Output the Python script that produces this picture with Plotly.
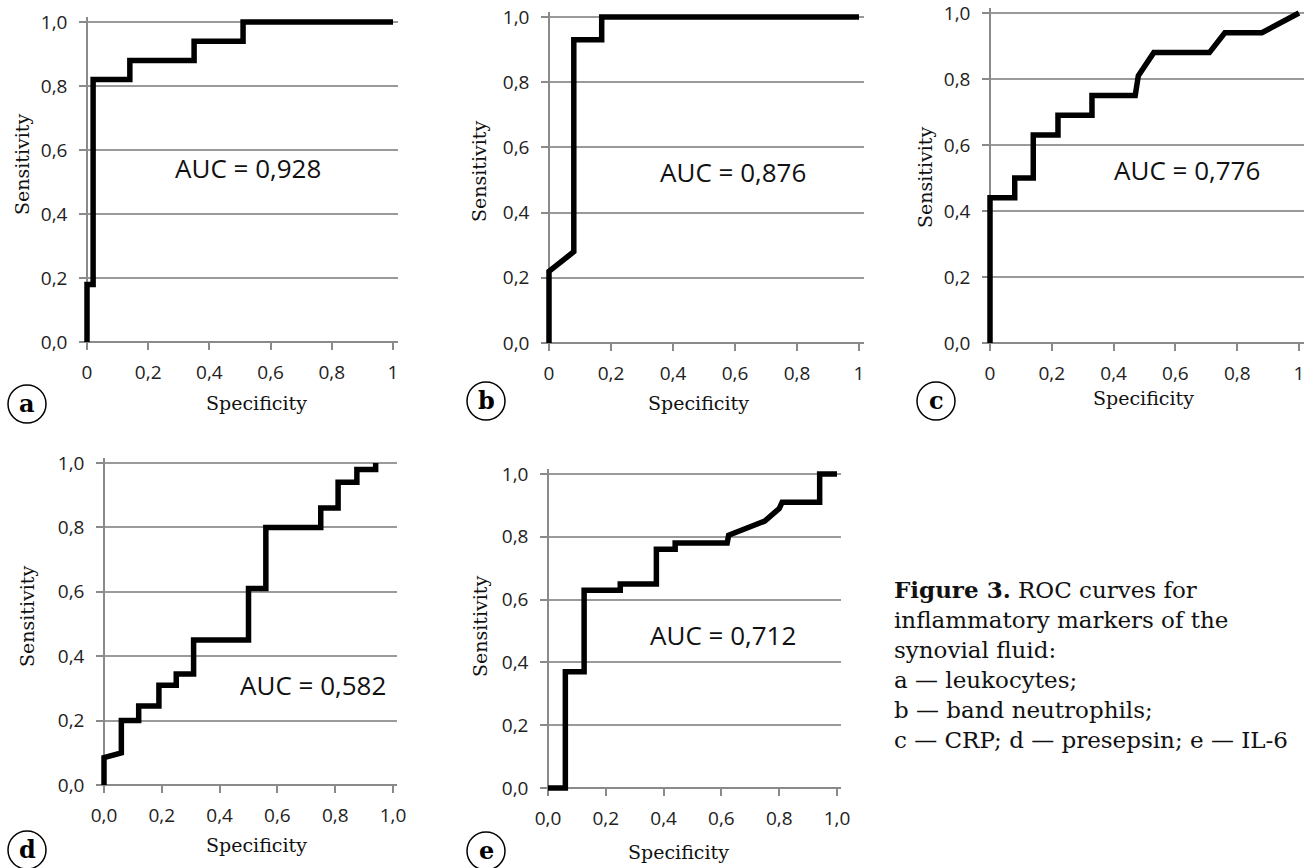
import plotly.graph_objects as go

# ---------------- data ----------------
a_spec = [0, 0, 0.02, 0.02, 0.14, 0.14, 0.35, 0.35, 0.51, 0.51, 1.0]
a_sens = [0, 0.18, 0.18, 0.82, 0.82, 0.88, 0.88, 0.94, 0.94, 1.0, 1.0]

b_spec = [0, 0, 0.08, 0.08, 0.17, 0.17, 1.0]
b_sens = [0, 0.22, 0.28, 0.93, 0.93, 1.0, 1.0]

c_spec = [0, 0, 0.08, 0.08, 0.14, 0.14, 0.22, 0.22, 0.33, 0.33, 0.47, 0.48, 0.53, 0.71, 0.76, 0.88, 1.0]
c_sens = [0, 0.44, 0.44, 0.50, 0.50, 0.63, 0.63, 0.69, 0.69, 0.75, 0.75, 0.81, 0.88, 0.88, 0.94, 0.94, 1.0]

d_spec = [0, 0, 0.06, 0.06, 0.12, 0.12, 0.19, 0.19, 0.25, 0.25, 0.31, 0.31, 0.50, 0.50,
          0.56, 0.56, 0.75, 0.75, 0.81, 0.81, 0.875, 0.875, 0.94, 0.94]
d_sens = [0, 0.085, 0.10, 0.20, 0.20, 0.245, 0.245, 0.31, 0.31, 0.345, 0.345, 0.45, 0.45, 0.61,
          0.61, 0.80, 0.80, 0.86, 0.86, 0.94, 0.94, 0.98, 0.98, 1.0]

e_spec = [0, 0.06, 0.06, 0.125, 0.125, 0.25, 0.25, 0.375, 0.375, 0.44, 0.44, 0.62, 0.625,
          0.69, 0.75, 0.80, 0.81, 0.94, 0.94, 1.0]
e_sens = [0, 0, 0.37, 0.37, 0.63, 0.63, 0.65, 0.65, 0.76, 0.76, 0.78, 0.78, 0.805,
          0.83, 0.85, 0.89, 0.91, 0.91, 1.0, 1.0]

auc_labels = ["AUC = 0,928", "AUC = 0,876", "AUC = 0,776", "AUC = 0,582", "AUC = 0,712"]
panel_letters = ["a", "b", "c", "d", "e"]

y_tickvals = [0, 0.2, 0.4, 0.6, 0.8, 1.0]
y_ticktext = ["0,0", "0,2", "0,4", "0,6", "0,8", "1,0"]
x_tickvals = [0, 0.2, 0.4, 0.6, 0.8, 1.0]
x_ticktext_short = ["0", "0,2", "0,4", "0,6", "0,8", "1"]
x_ticktext_long = ["0,0", "0,2", "0,4", "0,6", "0,8", "1,0"]

caption = ("<b>Figure 3.</b> ROC curves for<br>inflammatory markers of the<br>synovial fluid:<br>"
           "a — leukocytes;<br>b — band neutrophils;<br>c — CRP; d — presepsin; e — IL-6")

# ---------------- layout geometry (pixels) ----------------
W, H = 1311, 868
P = 0.015
# x pixel of 0, x pixel of 1, y pixel of 0, y pixel of 1
geoms = [(87, 393, 342, 22), (549, 859, 343, 17), (990, 1299, 343, 13),
         (104, 393, 785, 463), (548, 837, 788, 474)]
auc_pos = [(0.526, 0.544), (0.594, 0.525), (0.638, 0.524), (0.723, 0.31), (0.606, 0.487)]
spec_title_pos = [(256, 403), (699, 403), (1143, 398), (256, 845), (678, 852)]
sens_title_pos = [(22, 165), (479, 172), (925, 177), (27, 617), (480, 627)]
circle_pos = [(27, 404), (486, 401), (936, 401), (27, 850), (486, 851)]

series = [(a_spec, a_sens), (b_spec, b_sens), (c_spec, c_sens), (d_spec, d_sens), (e_spec, e_sens)]
xtexts = [x_ticktext_short, x_ticktext_short, x_ticktext_short, x_ticktext_long, x_ticktext_long]

AX = "#8a8a8a"
TICKFONT = dict(family="Open Sans", size=19, color="#222")
SERIF = "DejaVu Serif"

fig = go.Figure()
layout = dict(width=W, height=H, margin=dict(l=0, r=0, t=0, b=0, pad=0, autoexpand=False),
              template="none", autosize=False,
              paper_bgcolor="white", plot_bgcolor="white", showlegend=False)
annotations = []
shapes = []

for i, ((xs, ys), g) in enumerate(zip(series, geoms)):
    sfx = "" if i == 0 else str(i + 1)
    x0p, x1p, y0p, y1p = g
    wx = x1p - x0p
    hy = y0p - y1p
    dom_x = [(x0p - P * wx) / W, (x1p + P * wx) / W]
    dom_y = [1 - (y0p + P * hy) / H, 1 - (y1p - P * hy) / H]
    fig.add_trace(go.Scatter(x=xs, y=ys, mode="lines",
                             line=dict(color="black", width=5.5),
                             xaxis="x" + sfx, yaxis="y" + sfx, hoverinfo="skip"))
    layout["xaxis" + sfx] = dict(
        domain=dom_x, range=[-P, 1 + P], anchor="free", position=1 - y0p / H,
        showline=True, linecolor=AX, linewidth=1.5, ticks="outside", ticklen=7,
        tickcolor=AX, tickwidth=1.5, tickvals=x_tickvals, ticktext=xtexts[i],
        showgrid=False, zeroline=False, tickfont=TICKFONT, ticklabelstandoff=6,
        ticklabeloverflow="allow",
        fixedrange=True, automargin=False, layer="below traces")
    layout["yaxis" + sfx] = dict(
        domain=dom_y, range=[-P, 1 + P], anchor="free", position=x0p / W,
        showline=True, linecolor=AX, linewidth=1.5, ticks="outside", ticklen=7,
        tickcolor=AX, tickwidth=1.5, tickvals=y_tickvals, ticktext=y_ticktext,
        showgrid=True, gridcolor="#9a9a9a", gridwidth=1.5, zeroline=False,
        tickfont=TICKFONT, ticklabelstandoff=8, ticklabeloverflow="allow",
        fixedrange=True, automargin=False, layer="below traces")
    ax_, ay_ = auc_pos[i]
    annotations.append(dict(x=ax_, y=ay_, xref="x" + sfx, yref="y" + sfx, text=auc_labels[i],
                            xanchor="center", yanchor="middle",
                            showarrow=False, font=dict(family="Open Sans", size=26, color="#111")))
    sx, sy = spec_title_pos[i]
    annotations.append(dict(x=sx / W, y=1 - sy / H, xref="paper", yref="paper", text="Specificity",
                            xanchor="center", yanchor="middle",
                            showarrow=False, font=dict(family=SERIF, size=19, color="#111")))
    tx, ty = sens_title_pos[i]
    annotations.append(dict(x=tx / W, y=1 - ty / H, xref="paper", yref="paper", text="Sensitivity",
                            xanchor="center", yanchor="middle",
                            textangle=-90, showarrow=False,
                            font=dict(family=SERIF, size=19, color="#111")))
    cx, cy = circle_pos[i]
    r = 19
    shapes.append(dict(type="circle", xref="paper", yref="paper",
                       x0=(cx - r) / W, x1=(cx + r) / W, y0=1 - (cy + r) / H, y1=1 - (cy - r) / H,
                       line=dict(color="black", width=1.5)))
    annotations.append(dict(x=cx / W, y=1 - (cy - 1) / H, xref="paper", yref="paper",
                            xanchor="center", yanchor="middle",
                            text="<b>" + panel_letters[i] + "</b>", showarrow=False,
                            font=dict(family=SERIF, size=24, color="black")))

annotations.append(dict(x=892 / W, y=1 - 574 / H, xref="paper", yref="paper", xanchor="left",
                        yanchor="top", align="left", text=caption, showarrow=False,
                        font=dict(family=SERIF, size=23, color="#111")))

layout["annotations"] = annotations
layout["shapes"] = shapes
fig.update_layout(**layout)
fig.write_html("out.html", config={"displayModeBar": False},
               post_script="document.body.style.margin='0';document.body.style.overflow='hidden';")
